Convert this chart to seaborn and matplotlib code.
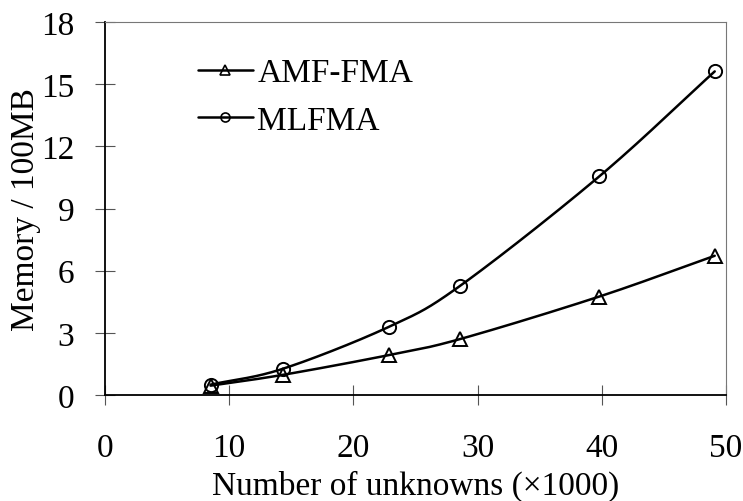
import numpy as np
import pandas as pd
import matplotlib
matplotlib.use("Agg")
import matplotlib.pyplot as plt
import seaborn as sns
from matplotlib.lines import Line2D

# ---- data ----
unknowns = [8.5, 14.3, 22.9, 28.6, 39.8, 49.1]
amf_fma = [0.45, 0.97, 1.93, 2.70, 4.75, 6.72]
mlfma = [0.50, 1.26, 3.30, 5.27, 10.55, 15.62]
series_names = ["AMF-FMA", "MLFMA"]
x_ticks = [0, 10, 20, 30, 40, 50]
y_ticks = [0, 3, 6, 9, 12, 15, 18]

sns.set_theme(style="white")
plt.rcParams['font.family'] = ['Liberation Serif', 'DejaVu Serif']
plt.rcParams['text.color'] = 'black'
plt.rcParams['axes.labelcolor'] = 'black'
plt.rcParams['xtick.color'] = 'black'
plt.rcParams['ytick.color'] = 'black'


def smooth(xs, ys, n=40):
    """Catmull-Rom style smoothing (Excel 'smoothed line')."""
    xs = np.asarray(xs, float)
    ys = np.asarray(ys, float)
    px = np.concatenate([[2 * xs[0] - xs[1]], xs, [2 * xs[-1] - xs[-2]]])
    py = np.concatenate([[2 * ys[0] - ys[1]], ys, [2 * ys[-1] - ys[-2]]])
    ox, oy = [], []
    t = np.linspace(0, 1, n)
    for i in range(1, len(px) - 2):
        p0, p1, p2, p3 = (np.array([px[j], py[j]]) for j in (i - 1, i, i + 1, i + 2))
        c1 = p1 + (p2 - p0) / 6.0
        c2 = p2 - (p3 - p1) / 6.0
        b = ((1 - t) ** 3)[:, None] * p1 + (3 * (1 - t) ** 2 * t)[:, None] * c1 \
            + (3 * (1 - t) * t ** 2)[:, None] * c2 + (t ** 3)[:, None] * p2
        ox.extend(b[:, 0]); oy.extend(b[:, 1])
    return np.array(ox), np.array(oy)


fig = plt.figure(figsize=(7.43, 5.02), dpi=100)
ax = fig.add_axes([0.1413, 0.2112, 0.977 - 0.1413, 0.954 - 0.2112])

markers = {"AMF-FMA": "^", "MLFMA": "o"}
for name, vals in zip(series_names, [amf_fma, mlfma]):
    sx, sy = smooth(unknowns, vals)
    sdf = pd.DataFrame({"x": sx, "y": sy})
    sns.lineplot(data=sdf, x="x", y="y", ax=ax, color="black", lw=1.8,
                 sort=False, estimator=None)
    ax.plot(unknowns, vals, linestyle="none", marker=markers[name],
            markersize=9.5, markerfacecolor="none", markeredgecolor="black",
            markeredgewidth=1.4)

ax.set_xlim(0, 50)
ax.set_ylim(0, 18)
ax.set_xticks(x_ticks)
ax.set_yticks(y_ticks)
ax.set_xlabel("Number of unknowns (×1000)", fontsize=24, labelpad=5)
ax.set_ylabel("Memory / 100MB", fontsize=24, labelpad=0)
ax.tick_params(axis="both", labelsize=24, direction="inout", length=14,
               width=0.8, color="#555555", labelcolor="black",
               bottom=True, left=True)
ax.tick_params(axis="x", pad=20)
ax.tick_params(axis="y", pad=15)

for s in ["left", "bottom"]:
    ax.spines[s].set_color("black")
    ax.spines[s].set_linewidth(1.3)
for s in ["top", "right"]:
    ax.spines[s].set_color("#777777")
    ax.spines[s].set_linewidth(0.8)

handles = [Line2D([0], [0], color="black", lw=1.8, marker=markers[n],
                  markersize=6.5, markerfacecolor="none",
                  markeredgecolor="black", markeredgewidth=1.2)
           for n in series_names]
leg = ax.legend(handles, series_names, loc="upper left",
                bbox_to_anchor=(0.128, 0.94), frameon=False, fontsize=24,
                handlelength=1.65, handletextpad=0.13, labelspacing=0.52,
                borderaxespad=0)

fig.savefig("out.png", dpi=100)
